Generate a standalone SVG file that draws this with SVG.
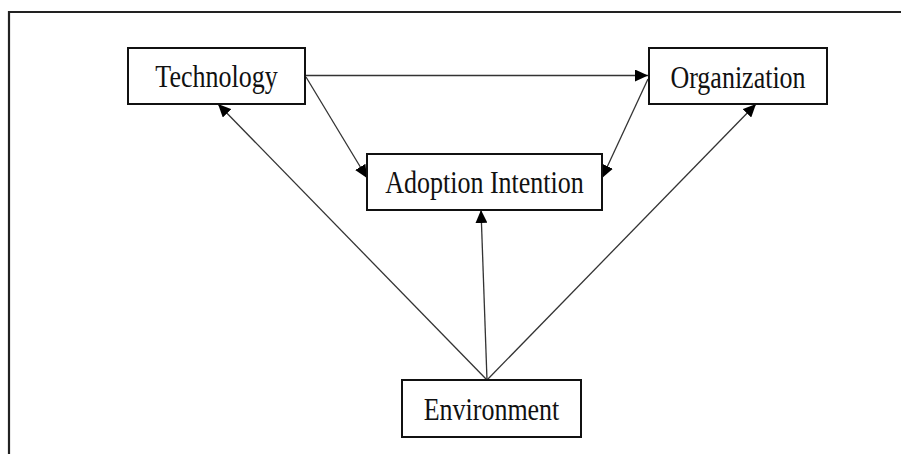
<svg xmlns="http://www.w3.org/2000/svg" width="901" height="454" viewBox="0 0 901 454">
<defs>
<style>
.box{fill:#fff;stroke:#111;stroke-width:2}
.lbl{font-family:"Liberation Serif","Times New Roman",serif;font-size:26px;fill:#111;text-anchor:middle}
.con{fill:none;stroke:#333;stroke-width:1.3}
.frame{fill:none;stroke:#222;stroke-width:2.2}
</style>
<marker id="arr" markerUnits="userSpaceOnUse" markerWidth="13" markerHeight="12" viewBox="0 0 13 12" refX="13" refY="6" orient="auto">
<path d="M0,0 L13,6 L0,12 z" fill="#000"/>
</marker>
</defs>
<rect width="901" height="454" fill="#fff"/>
<path class="frame" d="M9,460 L9,12 L910,12"/>
<g id="connectors">
<line class="con" x1="305" y1="75.5" x2="648" y2="75.5" marker-end="url(#arr)"/>
<line class="con" x1="306" y1="77" x2="367" y2="178" marker-end="url(#arr)"/>
<line class="con" x1="648" y1="79" x2="602" y2="178" marker-end="url(#arr)"/>
<line class="con" x1="487" y1="380" x2="218" y2="104" marker-end="url(#arr)"/>
<line class="con" x1="487" y1="380" x2="481" y2="210" marker-end="url(#arr)"/>
<line class="con" x1="487" y1="380" x2="756" y2="104" marker-end="url(#arr)"/>
</g>
<g id="technology">
<rect class="box" x="128" y="48" width="177" height="56"/>
<text class="lbl" transform="translate(216.5,87) scale(1,1.2)">Technology</text>
</g>
<g id="organization">
<rect class="box" x="649" y="48" width="178" height="56"/>
<text class="lbl" transform="translate(738,88) scale(1,1.2)">Organization</text>
</g>
<g id="adoption-intention">
<rect class="box" x="367" y="154" width="235" height="56"/>
<text class="lbl" transform="translate(484.5,193) scale(1,1.2)">Adoption Intention</text>
</g>
<g id="environment">
<rect class="box" x="402" y="380" width="179" height="57"/>
<text class="lbl" transform="translate(491.5,420) scale(1,1.2)">Environment</text>
</g>
</svg>
